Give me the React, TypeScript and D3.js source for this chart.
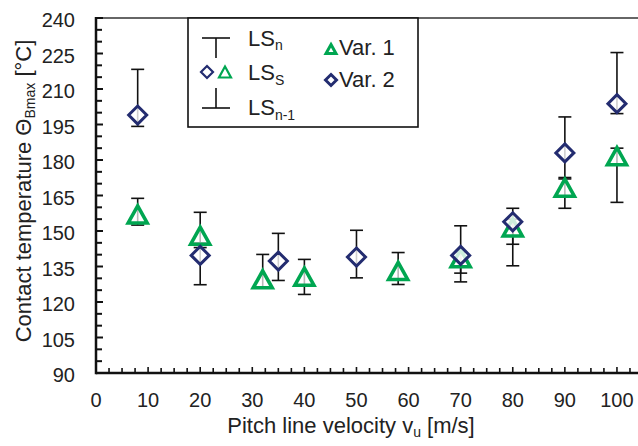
import React from 'react';
import * as d3 from 'd3';

// Var. 1 (green triangles)
const var1X = [8, 20, 32, 40, 58, 70, 80, 90, 100];
const var1Y = [157, 148, 129.6, 130.7, 133.1, 138.5, 151.5, 168.3, 181.6];
const var1Hi = [163.8, 157.9, 140.1, 138, 140.9, 141, 155, 172, 185];
const var1Lo = [152.5, 145, 126, 123.2, 127.4, 128.5, 135.3, 159.6, 162.1];

// Var. 2 (navy diamonds)
const var2X = [8, 20, 35, 50, 70, 80, 90, 100];
const var2Y = [199, 139.7, 137.3, 139, 139.7, 153.9, 183, 203.8];
const var2Hi = [218.3, 143, 149, 150.3, 152.2, 159.6, 198.2, 225.4];
const var2Lo = [194.2, 127.3, 129.1, 130.2, 132.2, 144.4, 172.6, 199.6];

const xTickLabels = [0, 10, 20, 30, 40, 50, 60, 70, 80, 90, 100];
const yTickLabels = [90, 105, 120, 135, 150, 165, 180, 195, 210, 225, 240];

const W = 638;
const H = 446;
const FONT = '"Liberation Sans", Arial, sans-serif';
const GREEN = '#00a651';
const NAVY = '#232c70';

const x = d3.scaleLinear().domain([0, 105]).range([96, 643]);
const y = d3.scaleLinear().domain([90, 240]).range([373, 18]);

const diamond = (s: number) => `M0,${-s}L${s},0L0,${s}L${-s},0Z`;
const triangle = (w: number, h: number) => `M0,${-h}L${w},${h}L${-w},${h}Z`;

const ErrBar = ({ xv, hi, lo }: { xv: number; hi: number; lo: number }) => {
  const cx = x(xv);
  return (
    <g stroke="#111" strokeWidth={1.6}>
      <line x1={cx} x2={cx} y1={y(hi)} y2={y(lo)} />
      <line x1={cx - 6.5} x2={cx + 6.5} y1={y(hi)} y2={y(hi)} />
      <line x1={cx - 6.5} x2={cx + 6.5} y1={y(lo)} y2={y(lo)} />
    </g>
  );
};

export default function App() {
  const xTicks = d3.range(0, 105.1, 2.5);
  const yTicks = d3.range(90, 240.1, 5);
  return (
    <svg
      width={W}
      height={H}
      style={{ position: 'fixed', left: 0, top: 0, background: '#fff' }}
      fontFamily={FONT}
    >
      {/* frame top line */}
      <line x1={x(0)} x2={W} y1={y(240)} y2={y(240)} stroke="#333" strokeWidth={1.6} />

      {/* axes */}
      <line x1={x(0)} x2={W} y1={y(90)} y2={y(90)} stroke="#111" strokeWidth={2.5} />
      <line x1={x(0)} x2={x(0)} y1={y(240) - 1} y2={y(90) + 1.2} stroke="#111" strokeWidth={2.5} />
      {xTicks.map((t) => (
        <line
          key={'xt' + t}
          x1={x(t)}
          x2={x(t)}
          y1={y(90)}
          y2={y(90) - (t % 10 === 0 ? 6 : 5)}
          stroke="#111"
          strokeWidth={1.6}
        />
      ))}
      {yTicks.map((t) => (
        <line
          key={'yt' + t}
          x1={x(0)}
          x2={x(0) + (t % 15 === 0 ? 7 : 6)}
          y1={y(t)}
          y2={y(t)}
          stroke="#111"
          strokeWidth={2}
        />
      ))}
      {xTickLabels.map((t) => (
        <text key={'xl' + t} x={x(t)} y={407} fontSize={20} textAnchor="middle" fill="#222">
          {t}
        </text>
      ))}
      {yTickLabels.map((t) => (
        <text key={'yl' + t} x={75} y={y(t) + 2} dy="0.35em" fontSize={20} textAnchor="end" fill="#222">
          {t}
        </text>
      ))}

      {/* axis titles */}
      <text x={351} y={433} fontSize={22} textAnchor="middle" fill="#222">
        Pitch line velocity v
        <tspan fontSize={14} dy={4}>u</tspan>
        <tspan dy={-4}> [m/s]</tspan>
      </text>
      <text transform="translate(31,191) rotate(-90)" fontSize={22} textAnchor="middle" fill="#222">
        Contact temperature Θ
        <tspan fontSize={14} dy={4}>Bmax</tspan>
        <tspan dy={-4}> [°C]</tspan>
      </text>

      {/* error bars */}
      {var1X.map((v, i) => (
        <ErrBar key={'e1' + i} xv={v} hi={var1Hi[i]} lo={var1Lo[i]} />
      ))}
      {var2X.map((v, i) => (
        <ErrBar key={'e2' + i} xv={v} hi={var2Hi[i]} lo={var2Lo[i]} />
      ))}

      {/* markers */}
      {var1X.map((v, i) => (
        <path
          key={'m1' + i}
          d={triangle(9.5, 8.5)}
          transform={`translate(${x(v)},${y(var1Y[i])})`}
          fill="#fff"
          fillOpacity={0.7}
          stroke={GREEN}
          strokeWidth={3.6}
        />
      ))}
      {var2X.map((v, i) => (
        <path
          key={'m2' + i}
          d={diamond(9)}
          transform={`translate(${x(v)},${y(var2Y[i])})`}
          fill="#fff"
          fillOpacity={0.8}
          stroke={NAVY}
          strokeWidth={3}
        />
      ))}

      {/* legend */}
      <g>
        <rect x={188} y={18} width={230} height={109} fill="#fff" stroke="#111" strokeWidth={1.6} />
        <g stroke="#111" strokeWidth={1.6}>
          <line x1={202} x2={230} y1={38} y2={38} />
          <line x1={216} x2={216} y1={38} y2={58} />
          <line x1={216} x2={216} y1={88} y2={108} />
          <line x1={202} x2={230} y1={108} y2={108} />
        </g>
        <path d={diamond(6)} transform="translate(207,72)" fill="#fff" stroke={NAVY} strokeWidth={2.2} />
        <path d={triangle(6, 5.5)} transform="translate(225,72)" fill="#fff" stroke={GREEN} strokeWidth={2.2} />
        <text x={248} y={46} fontSize={22} fill="#222">
          LS<tspan fontSize={14} dy={4}>n</tspan>
        </text>
        <text x={248} y={80} fontSize={22} fill="#222">
          LS<tspan fontSize={14} dy={5}>S</tspan>
        </text>
        <text x={248} y={115} fontSize={22} fill="#222">
          LS<tspan fontSize={14} dy={5}>n-1</tspan>
        </text>
        <path d={triangle(5, 4.5)} transform="translate(331,49)" fill="#fff" stroke={GREEN} strokeWidth={3} />
        <text x={339} y={55} fontSize={22} fill="#222">Var. 1</text>
        <path d={diamond(5.5)} transform="translate(331,80)" fill="#fff" stroke={NAVY} strokeWidth={3} />
        <text x={339} y={87} fontSize={22} fill="#222">Var. 2</text>
      </g>
    </svg>
  );
}
